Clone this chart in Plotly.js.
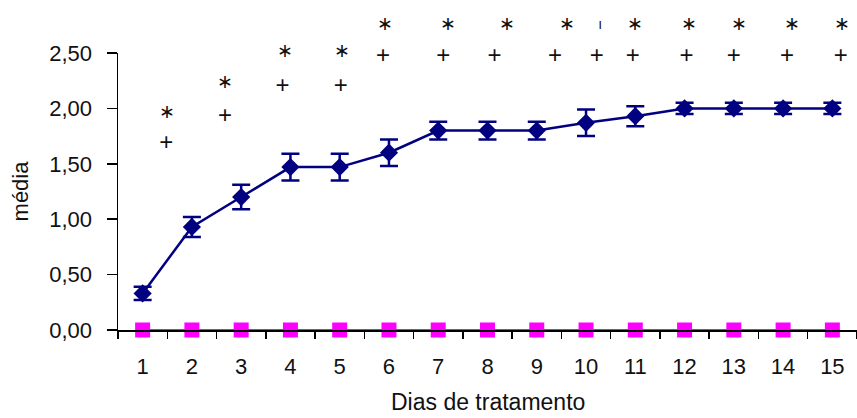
<!DOCTYPE html>
<html>
<head>
<meta charset="utf-8">
<script src="https://cdn.plot.ly/plotly-3.0.1.min.js"></script>
<style>
  html, body { margin: 0; padding: 0; background: #ffffff; }
  #chart { width: 857px; height: 418px; }
</style>
</head>
<body>
<div id="chart"></div>
<script>
// ---- data ----
var days = [1, 2, 3, 4, 5, 6, 7, 8, 9, 10, 11, 12, 13, 14, 15];
var treatedMean = [0.33, 0.93, 1.20, 1.47, 1.47, 1.60, 1.80, 1.80, 1.80, 1.87, 1.93, 2.00, 2.00, 2.00, 2.00];
var treatedErr  = [0.06, 0.09, 0.11, 0.12, 0.12, 0.12, 0.08, 0.08, 0.08, 0.12, 0.09, 0.05, 0.05, 0.05, 0.05];
var controlMean = [0, 0, 0, 0, 0, 0, 0, 0, 0, 0, 0, 0, 0, 0, 0];

var yTickVals = [0, 0.5, 1.0, 1.5, 2.0, 2.5];
var yTickText = ['0,00', '0,50', '1,00', '1,50', '2,00', '2,50'];

// significance marks (position in data units)
var starX = [1.49, 2.67, 3.89, 5.04, 5.92, 7.20, 8.40, 9.62, 11.00, 12.08, 13.10, 14.18, 15.20];
var starY = [1.96, 2.23, 2.51, 2.51, 2.75, 2.75, 2.75, 2.75, 2.75, 2.75, 2.75, 2.75, 2.75];
var tickMarkX = [10.29];
var tickMarkY = [2.75];

var plusX = [1.48, 2.67, 3.84, 5.02, 5.88, 7.10, 8.14, 9.37, 10.22, 10.95, 12.04, 13.00, 14.08, 15.17];
var plusY = [1.68, 1.92, 2.19, 2.19, 2.46, 2.46, 2.46, 2.46, 2.46, 2.46, 2.46, 2.46, 2.46, 2.46];

var FONT = 'Liberation Sans, Arial, sans-serif';
var NAVY = '#000080';
var MAGENTA = '#ff00ff';
var INK = '#111111';

// main axis occupies the lower part of the plot area; the helper axis y2 spans the
// full height with the same scale so that marks above 2,50 are still drawn
var Y_MAX = 2.5;
var MAIN_DOMAIN_TOP = 277 / 330;

function textTrace(xs, ys, label, size) {
  return {
    x: xs, y: ys, type: 'scatter', mode: 'text', yaxis: 'y2',
    text: xs.map(function () { return label; }),
    textposition: 'middle center',
    textfont: { family: FONT, size: size, color: INK },
    cliponaxis: false, hoverinfo: 'skip'
  };
}

var traces = [
  textTrace(starX, starY, '\u2217', 19),
  textTrace(tickMarkX, tickMarkY, 'ı', 14),
  textTrace(plusX, plusY, '+', 24),
  {
    x: days, y: controlMean, type: 'scatter', mode: 'lines+markers',
    line: { color: MAGENTA, width: 2 },
    marker: { symbol: 'square', size: 15, color: MAGENTA },
    cliponaxis: false, hoverinfo: 'skip'
  },
  {
    x: days, y: treatedMean, type: 'scatter', mode: 'lines+markers',
    line: { color: NAVY, width: 2.5 },
    marker: { symbol: 'diamond', size: 14, color: NAVY },
    error_y: { type: 'data', array: treatedErr, visible: true, color: NAVY, thickness: 2.5, width: 9 },
    cliponaxis: false, hoverinfo: 'skip'
  }
];

var layout = {
  width: 857, height: 418,
  margin: { l: 118, r: 0, t: 0, b: 88, pad: 0 },
  paper_bgcolor: '#ffffff', plot_bgcolor: 'rgba(0,0,0,0)',
  showlegend: false,
  font: { family: FONT, size: 22, color: INK },
  xaxis: {
    range: [0.5, 15.5], tickmode: 'array', tickvals: days,
    ticktext: days.map(String),
    ticks: '', ticklabelstandoff: 16,
    showline: true, linecolor: '#000000', linewidth: 1.5,
    showgrid: false, zeroline: false,
    minor: { tick0: 0.5, dtick: 1, ticks: 'outside', ticklen: 7, tickwidth: 1.5, tickcolor: '#000000', showgrid: false },
    tickfont: { family: FONT, size: 22, color: INK },
    fixedrange: true
  },
  yaxis: {
    domain: [0, MAIN_DOMAIN_TOP],
    range: [0, Y_MAX], tickmode: 'array', tickvals: yTickVals, ticktext: yTickText,
    ticks: 'outside', ticklen: 10, tickwidth: 1.5, tickcolor: '#000000',
    ticklabelstandoff: 10,
    showline: true, linecolor: '#000000', linewidth: 1.5,
    showgrid: false, zeroline: false,
    tickfont: { family: FONT, size: 22, color: INK },
    title: { text: 'média', font: { family: FONT, size: 22, color: INK }, standoff: 14 },
    fixedrange: true
  },
  yaxis2: {
    domain: [0, 1], anchor: 'x',
    range: [0, Y_MAX / MAIN_DOMAIN_TOP],
    visible: false, showgrid: false, zeroline: false, fixedrange: true
  },
  annotations: [{
    text: 'Dias de tratamento', xref: 'paper', yref: 'paper',
    x: 0.5, y: -72 / 330, xanchor: 'center', yanchor: 'middle', showarrow: false,
    font: { family: FONT, size: 23, color: INK }
  }]
};

Plotly.newPlot('chart', traces, layout, { displayModeBar: false, staticPlot: true });
</script>
</body>
</html>
